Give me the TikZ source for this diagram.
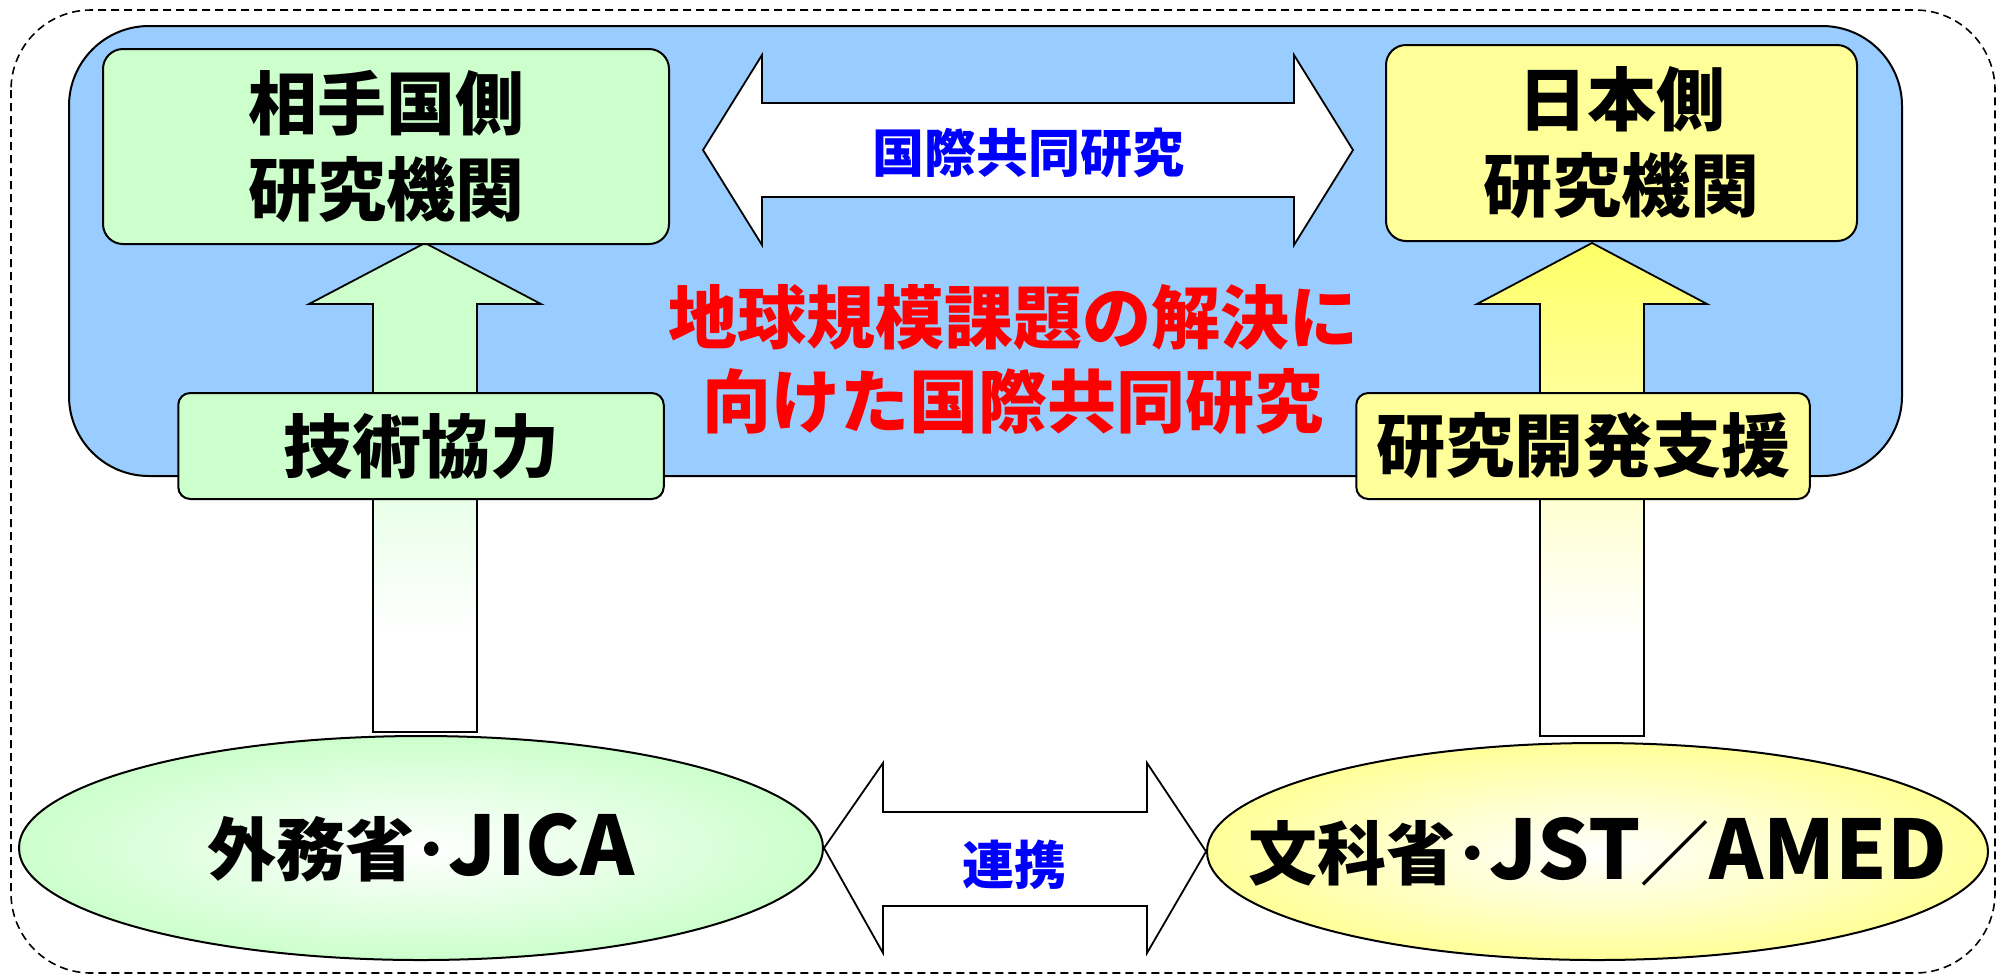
\documentclass[tikz,border=0pt]{standalone}
\usepackage{fontspec}
\newfontfamily\jp{Noto Sans CJK JP}
\usetikzlibrary{shapes.geometric}
\definecolor{cblue}{HTML}{99CCFF}
\definecolor{cgreen}{HTML}{CCFFCC}
\definecolor{cyel}{HTML}{FFFF99}
\definecolor{cyeltip}{HTML}{FFFF66}
\definecolor{tblue}{HTML}{0000FF}
\definecolor{tred}{HTML}{FF0000}
\colorlet{cgreenpale}{cgreen!45!white}
\colorlet{cyelpale}{cyel!45!white}
\pgfdeclareverticalshading{garrow}{100bp}{color(0bp)=(white); color(35bp)=(white); color(49bp)=(cgreenpale); color(59bp)=(cgreen); color(100bp)=(cgreen)}
\pgfdeclareverticalshading{yarrow}{100bp}{color(0bp)=(white); color(35bp)=(white); color(49bp)=(cyelpale); color(60bp)=(cyel); color(75bp)=(cyeltip); color(100bp)=(cyeltip)}
\newcommand{\latinpart}[1]{{\fontsize{41pt}{41pt}\selectfont #1}}
\tikzset{
  boxfont/.style={font=\jp\bfseries\fontsize{34.5pt}{43pt}\selectfont},
  bluefont/.style={font=\jp\bfseries\fontsize{26pt}{30pt}\selectfont, text=tblue},
  instbox/.style={draw=black, line width=1pt, rounded corners=10pt, boxfont, align=center, inner sep=0pt},
  labelbox/.style={draw=black, line width=1pt, rounded corners=6pt, boxfont, inner sep=0pt, minimum height=53pt},
  blockarrow/.style={draw=black, line width=0.9pt},
  agency/.style={ellipse, draw=black, line width=1pt, inner sep=0pt, font=\jp\bfseries\fontsize{34.5pt}{40pt}\selectfont},
}
\begin{document}
\begin{tikzpicture}[x=0.5pt,y=-0.5pt]
\useasboundingbox (0,0) rectangle (2006,976);
% outer dashed frame
\draw[line width=0.8pt, dash pattern=on 4pt off 2.5pt, rounded corners=40pt] (11,10) rectangle (1995,973);
% blue region
\draw[fill=cblue, line width=1pt, rounded corners=40pt] (69,26) rectangle (1902,476);
% top double arrow
\draw[blockarrow, fill=white] (703,150) -- (762,55) -- (762,103) -- (1294,103) -- (1294,55) -- (1353,150)
  -- (1294,245) -- (1294,197) -- (762,197) -- (762,245) -- cycle;
\node[bluefont] (joint) at (1028,153) {国際共同研究};
% up arrows
\path[shade, shading=garrow, draw=black, line width=0.9pt] (425,243) -- (541,304) -- (477,304) -- (477,732)
  -- (373,732) -- (373,304) -- (309,304) -- cycle;
\path[shade, shading=yarrow, draw=black, line width=0.9pt] (1592,243) -- (1707,304) -- (1644,304) -- (1644,736)
  -- (1540,736) -- (1540,304) -- (1477,304) -- cycle;
% institution boxes
\node[instbox, fill=cgreen, minimum width=283pt, minimum height=97.5pt] (partner) at (386,146.5) {相手国側\\研究機関};
\node[instbox, fill=cyel, minimum width=235.5pt, minimum height=98pt] (japan) at (1621.5,143) {日本側\\研究機関};
% label boxes
\node[labelbox, fill=cgreen, minimum width=242.75pt] (tech) at (421,446) {技術協力};
\node[labelbox, fill=cyel, minimum width=226.75pt] (rnd) at (1583,446) {研究開発支援};
% red goal text
\node[font=\jp\bfseries\fontsize{34.5pt}{42pt}\selectfont, text=tred, align=center] (goal) at (1013,360) {地球規模課題の解決に\\向けた国際共同研究};
% agencies
\node[agency, inner color=white, outer color=cgreen, minimum width=402pt, minimum height=112pt] (mofa) at (421,848)
  {\makebox[0pt]{外務省･\latinpart{JICA}}};
\node[agency, inner color=white, outer color=cyel, minimum width=390.5pt, minimum height=108.5pt] (mext) at (1597.5,851.5)
  {\makebox[0pt]{文科省･\latinpart{JST}／\latinpart{AMED}}};
% bottom double arrow
\draw[blockarrow, fill=white] (mofa.east) -- (883,763) -- (883,812) -- (1147,812) -- (1147,763) -- (mext.west)
  -- (1147,953) -- (1147,906) -- (883,906) -- (883,953) -- cycle;
\node[bluefont] (renkei) at (1014.5,865) {連携};
\end{tikzpicture}
\end{document}
